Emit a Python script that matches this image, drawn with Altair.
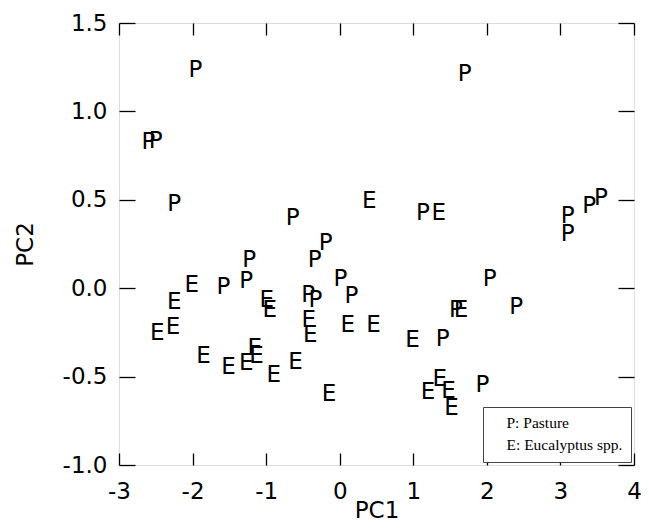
import altair as alt
import pandas as pd

# Pasture sites (P)
p_pc1 = [-1.96, -2.60, -2.50, -2.25, -0.64, 1.70, 1.13, 3.10, 3.10, 3.39, 3.55,
         -0.19, -1.23, -0.34, 0.01, -1.27, -1.58, -0.43, -0.33, 0.16, 2.04, 2.40,
         1.58, 1.40, 1.94]
p_pc2 = [1.24, 0.83, 0.84, 0.48, 0.405, 1.22, 0.43, 0.415, 0.31, 0.47, 0.515,
         0.26, 0.165, 0.165, 0.06, 0.045, 0.01, -0.03, -0.06, -0.04, 0.06, -0.10,
         -0.115, -0.28, -0.54]

# Eucalyptus sites (E)
e_pc1 = [0.40, 1.345, -2.01, -2.25, -2.48, -2.265, -0.99, -0.95, -0.42, -0.40,
         0.11, 0.46, -1.85, -1.51, -1.27, -1.155, -1.13, -0.895, -0.60, -0.145,
         1.65, 0.99, 1.36, 1.20, 1.48, 1.52]
e_pc2 = [0.50, 0.43, 0.025, -0.075, -0.245, -0.215, -0.06, -0.12, -0.175, -0.26,
         -0.20, -0.205, -0.375, -0.44, -0.415, -0.33, -0.38, -0.485, -0.41, -0.595,
         -0.115, -0.285, -0.51, -0.58, -0.575, -0.67]

groups = ["P", "E"]
group_labels = ["P: Pasture", "E: Eucalyptus spp."]
x_ticks = [-3, -2, -1, 0, 1, 2, 3, 4]
y_ticks = [-1.0, -0.5, 0.0, 0.5, 1.0, 1.5]

df = pd.DataFrame({
    "PC1": p_pc1 + e_pc1,
    "PC2": p_pc2 + e_pc2,
    "group": ["P"] * len(p_pc1) + ["E"] * len(e_pc1),
})

FONT = "DejaVu Sans"
MINUS = "\u2212"

xscale = alt.Scale(domain=[-3, 4], nice=False, zero=False)
yscale = alt.Scale(domain=[-1.0, 1.5], nice=False, zero=False)

label_expr = (f"datum.label == '{groups[0]}' ? '{group_labels[0]}' : '{group_labels[1]}'")

main = alt.Chart(df).mark_text(font=FONT, fontSize=23, baseline="middle", align="center", dy=1).encode(
    x=alt.X("PC1:Q", scale=xscale,
            axis=alt.Axis(orient="bottom", values=x_ticks, format="d", tickSize=12, offset=-12,
                          domain=False, grid=False, labelPadding=15, labelFont=FONT, labelFontSize=23,
                          labelColor="black", tickColor="black", tickWidth=1.3, labelFlush=False,
                          labelExpr=f"replace(datum.label, '{MINUS}', '-')",
                          title="PC1", titleFont=FONT, titleFontSize=23, titleFontWeight="normal",
                          titleColor="black", titlePadding=-4)),
    y=alt.Y("PC2:Q", scale=yscale,
            axis=alt.Axis(orient="left", values=y_ticks, format=".1f", tickSize=16, offset=-16,
                          domain=False, grid=False, labelPadding=12, labelFont=FONT, labelFontSize=23,
                          labelColor="black", tickColor="black", tickWidth=1.3, labelFlush=False,
                          labelExpr=f"replace(datum.label, '{MINUS}', '-')",
                          title="PC2", titleFont=FONT, titleFontSize=23, titleFontWeight="normal",
                          titleColor="black", titlePadding=25)),
    text="group:N",
    color=alt.Color("group:N",
                    scale=alt.Scale(domain=groups, range=["black", "black"]),
                    legend=alt.Legend(title=None, orient="none", legendX=364, legendY=384,
                                      labelExpr=label_expr, labelFont="Liberation Serif",
                                      labelFontSize=15.5, labelColor="black", symbolSize=0,
                                      symbolOpacity=0, symbolStrokeWidth=0, labelOffset=0,
                                      rowPadding=5, padding=8, strokeColor="#444444",
                                      fillColor="white", cornerRadius=0)),
)

mirror = alt.Chart(df).mark_point(opacity=0).encode(
    x=alt.X("PC1:Q", scale=xscale,
            axis=alt.Axis(orient="top", values=x_ticks, tickSize=12, offset=-12, labels=False,
                          domain=False, grid=False, tickColor="black", tickWidth=1.3, title=None)),
    y=alt.Y("PC2:Q", scale=yscale,
            axis=alt.Axis(orient="right", values=y_ticks, tickSize=16, offset=-16, labels=False,
                          domain=False, grid=False, tickColor="black", tickWidth=1.3, title=None)),
)

chart = alt.layer(main, mirror).resolve_axis(x="independent", y="independent").properties(
    width=515, height=442,
    autosize=alt.AutoSizeParams(type="none"),
    padding={"left": 111, "top": 15, "right": 7, "bottom": 54},
).configure_view(stroke="black", strokeWidth=1.5).configure(background="white")

chart.save("out.html", embed_options={"renderer": "svg", "actions": False})
